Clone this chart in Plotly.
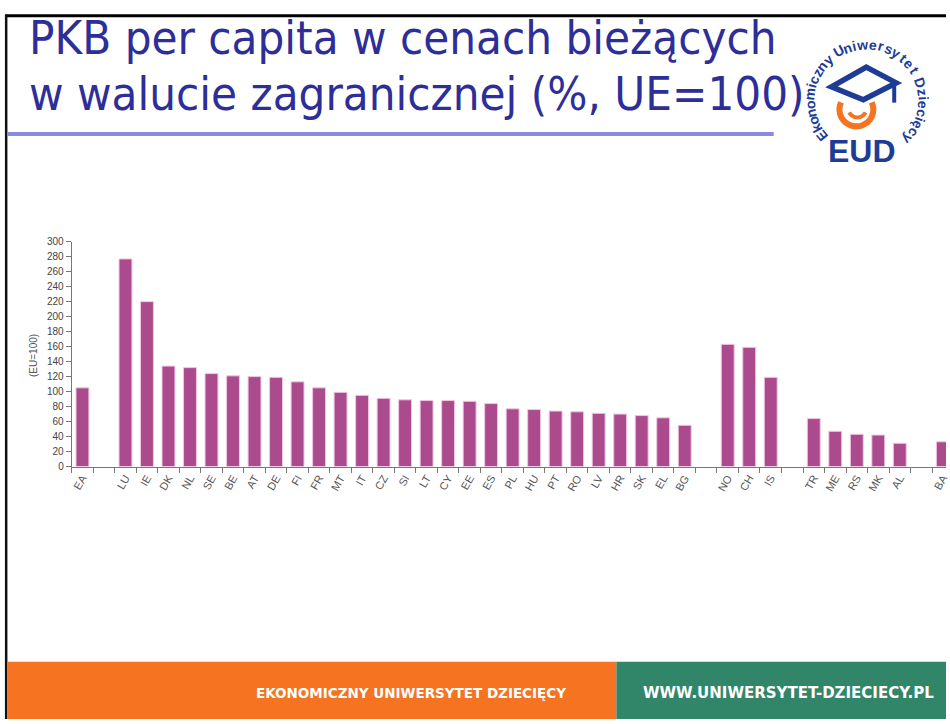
import math
import plotly.graph_objects as go

W, H = 950, 724

# ---------------- data ----------------
countries = ["EA", " ", "LU", "IE", "DK", "NL", "SE", "BE", "AT", "DE", "FI", "FR",
             "MT", "IT", "CZ", "SI", "LT", "CY", "EE", "ES", "PL", "HU", "PT", "RO",
             "LV", "HR", "SK", "EL", "BG", "  ", "NO", "CH", "IS", "   ", "TR", "ME",
             "RS", "MK", "AL", "    ", "BA"]
values = [105, None, 277, 220, 134, 132, 124, 121, 120, 119, 113, 105,
          99, 95, 91, 89, 88, 88, 87, 84, 77, 76, 74, 73,
          71, 70, 68, 65, 55, None, 163, 159, 119, None, 64, 47,
          43, 42, 31, None, 33]
y_ticks = list(range(0, 301, 20))

title_line1 = "PKB per capita w cenach bieżących"
title_line2 = "w walucie zagranicznej (%, UE=100)"
y_title = "(EU=100)"
footer_left = "EKONOMICZNY UNIWERSYTET DZIECIĘCY"
footer_right = "WWW.UNIWERSYTET-DZIECIECY.PL"
logo_ring_text = "Ekonomiczny Uniwersytet Dziecięcy"
logo_word = "EUD"


def px(x):
    return x / W


def py(y):
    return 1 - y / H


BAR = "#ab4a8c"
BLUE_T = "#2e2e99"
LOGO_BLUE = "#1e3c96"
ORANGE = "#f57321"
GREEN = "#31866a"

fig = go.Figure()
fig.add_trace(go.Bar(
    x=countries, y=values,
    marker=dict(color=BAR, line=dict(color="#f0c6e2", width=1)),
    hoverinfo="x+y",
))

x_left, x_right = 72, 950
y_top, y_bot = 240, 468
n_vis = (x_right - x_left) / 21.6

fig.update_layout(
    width=W, height=H,
    margin=dict(l=0, r=0, t=0, b=0),
    paper_bgcolor="white", plot_bgcolor="white",
    showlegend=False,
    bargap=0.4,
    font=dict(family="Liberation Sans, Arial, sans-serif", color="#444"),
    xaxis=dict(
        domain=[px(x_left), px(x_right)],
        type="category", categoryorder="array", categoryarray=countries,
        range=[-0.5, -0.5 + n_vis],
        showline=True, linecolor="#777", linewidth=1,
        ticks="outside", ticklen=5, tickcolor="#777", tickson="boundaries",
        tickangle=-60, tickfont=dict(size=11, color="#555"),
        showgrid=False, zeroline=False, fixedrange=True,
    ),
    yaxis=dict(
        domain=[py(y_bot), py(y_top)],
        range=[0, 300],
        tickmode="array", tickvals=y_ticks,
        showline=True, linecolor="#777", linewidth=1,
        ticks="outside", ticklen=5, tickcolor="#777",
        tickfont=dict(size=10, color="#444"),
        showgrid=False, zeroline=False, fixedrange=True,
    ),
)

shapes = []
annotations = []


def note(text, x, y, size, color, family="Liberation Sans, Arial", xa="center", ya="middle", angle=0):
    annotations.append(dict(text=text, xref="paper", yref="paper",
                            x=px(x), y=py(y), xanchor=xa, yanchor=ya,
                            textangle=angle, showarrow=False, borderpad=0,
                            font=dict(family=family, size=size, color=color)))


# slide frame
shapes.append(dict(type="line", xref="paper", yref="paper",
                   x0=px(5), x1=px(950), y0=py(10.8), y1=py(10.8),
                   line=dict(color="black", width=3)))
shapes.append(dict(type="line", xref="paper", yref="paper",
                   x0=px(6.2), x1=px(6.2), y0=py(10), y1=py(724),
                   line=dict(color="#111", width=2.5)))
# purple rule under title
shapes.append(dict(type="line", xref="paper", yref="paper",
                   x0=px(7), x1=px(777), y0=py(130.7), y1=py(130.7),
                   line=dict(color="#8a8ae0", width=4)))
# footer
shapes.append(dict(type="rect", xref="paper", yref="paper",
                   x0=px(7.5), x1=px(619), y0=py(666), y1=py(724),
                   line=dict(width=0), fillcolor=ORANGE))
shapes.append(dict(type="rect", xref="paper", yref="paper",
                   x0=px(619), x1=px(950), y0=py(666), y1=py(724),
                   line=dict(width=0), fillcolor=GREEN))

TFONT = "DejaVu Sans Condensed, DejaVu Sans"
note(title_line1, 28, 33, 47, BLUE_T, family=TFONT, xa="left")
note(title_line2, 28, 90, 47, BLUE_T, family=TFONT, xa="left")

note(y_title, 33, 355, 10, "#555", angle=-90)

note("<b>%s</b>" % footer_left, 413, 698, 13.5, "white", family="DejaVu Sans")
note("<b>%s</b>" % footer_right, 792, 698, 15, "white", family="DejaVu Sans")

# ---------------- logo ----------------
cx, cy, r = 870, 97, 57
th0, th1 = -129, 133


def wgt(c):
    if c in "il j":
        return 0.55
    if c in "mw":
        return 1.45
    if c.isupper():
        return 1.25
    return 1.0


ws = [wgt(c) for c in logo_ring_text]
tot = sum(ws) - ws[0] / 2 - ws[-1] / 2
acc = 0.0
for i, c in enumerate(logo_ring_text):
    if i > 0:
        acc += (ws[i - 1] + ws[i]) / 2
    th = th0 + (th1 - th0) * acc / tot
    if c == " ":
        continue
    t = math.radians(th)
    xx = cx + r * math.sin(t)
    yy = cy - r * math.cos(t)
    note("<b>%s</b>" % c, xx, yy, 14, LOGO_BLUE, angle=th)


def arc_path(ccx, ccy, rr, a0, a1, n=40):
    pts = []
    for k in range(n + 1):
        a = math.radians(a0 + (a1 - a0) * k / n)
        pts.append((ccx + rr * math.cos(a), ccy + rr * math.sin(a)))
    return "M " + " L ".join("%.5f,%.5f" % (px(a), py(b)) for a, b in pts)


# orange face
shapes.append(dict(type="path", xref="paper", yref="paper",
                   path=arc_path(860, 106, 17, -25, 205),
                   line=dict(color=ORANGE, width=6)))
shapes.append(dict(type="path", xref="paper", yref="paper",
                   path=arc_path(861, 105, 9, 25, 155),
                   line=dict(color=ORANGE, width=4)))
# mortarboard
cap = [(870, 63), (900, 79), (867, 96), (835, 83)]
shapes.append(dict(type="path", xref="paper", yref="paper",
                   path="M " + " L ".join("%.5f,%.5f" % (px(a), py(b)) for a, b in cap) + " Z",
                   fillcolor="white", line=dict(color=LOGO_BLUE, width=5.5)))
shapes.append(dict(type="line", xref="paper", yref="paper",
                   x0=px(898), x1=px(898), y0=py(80), y1=py(99),
                   line=dict(color=LOGO_BLUE, width=4)))
note("<b>%s</b>" % logo_word, 866, 148, 32, LOGO_BLUE)

fig.update_layout(shapes=shapes, annotations=annotations)
fig.write_html("out.html",
               config={"displayModeBar": False},
               post_script="document.body.style.margin='0px';document.body.style.overflow='hidden';")
